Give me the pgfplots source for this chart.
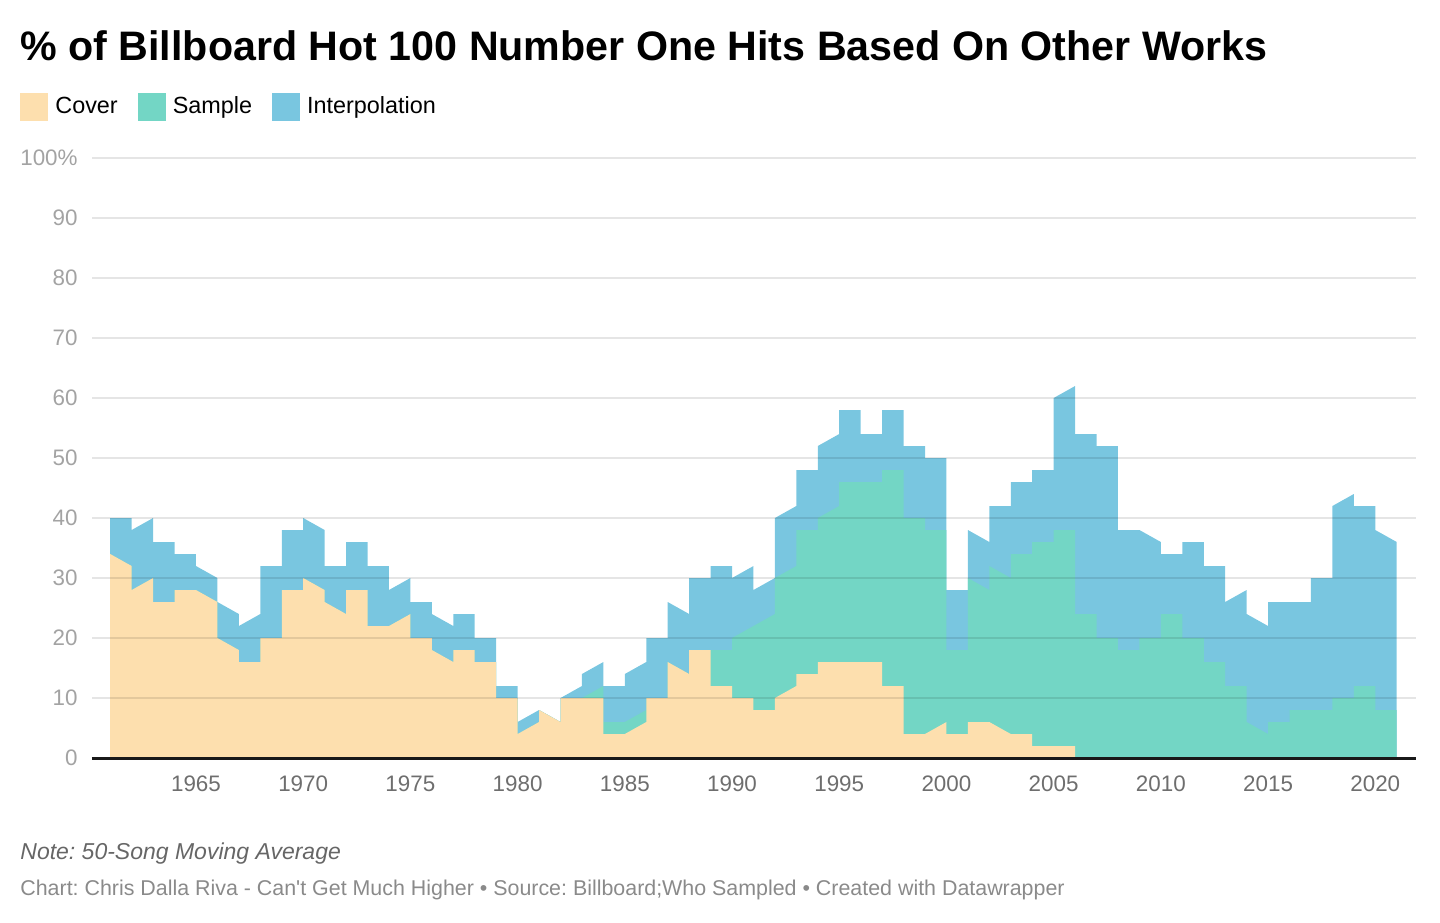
\documentclass[border=0pt]{standalone}
\usepackage{fontspec}
\setmainfont{Liberation Sans}
\usepackage{pgfplots}
\pgfplotsset{compat=1.18}
\usepackage{pgfplotstable}
\frenchspacing

\definecolor{cover}{HTML}{FDDFAE}
\definecolor{sample}{HTML}{73D6C5}
\definecolor{interp}{HTML}{79C6E0}
\definecolor{ylab}{HTML}{A3A3A3}
\definecolor{xlab}{HTML}{6E6E6E}
\definecolor{note}{HTML}{666666}
\definecolor{foot}{HTML}{8A8A8A}

% each year runs from x to x+1: start row and end row
% c = cover, s = cover+sample, t = cover+sample+interpolation
\pgfplotstableread{
x c s t
1961 34 34 40
1962 32 32 40
1962 28 28 38
1963 30 30 40
1963 26 26 36
1964 26 26 36
1964 28 28 34
1965 28 28 34
1965 28 28 32
1966 26 26 30
1966 20 20 26
1967 18 18 24
1967 16 16 22
1968 16 16 24
1968 20 20 32
1969 20 20 32
1969 28 28 38
1970 28 28 38
1970 30 30 40
1971 28 28 38
1971 26 26 32
1972 24 24 32
1972 28 28 36
1973 28 28 36
1973 22 22 32
1974 22 22 32
1974 22 22 28
1975 24 24 30
1975 20 20 26
1976 20 20 26
1976 18 18 24
1977 16 16 22
1977 18 18 24
1978 18 18 24
1978 16 16 20
1979 16 16 20
1979 10 10 12
1980 10 10 12
1980 4 4 6
1981 6 6 8
1981 8 8 8
1982 6 6 6
1982 10 10 10
1983 10 10 12
1983 10 10 14
1984 10 12 16
1984 4 6 12
1985 4 6 12
1985 4 6 14
1986 6 8 16
1986 10 10 20
1987 10 10 20
1987 16 16 26
1988 14 14 24
1988 18 18 30
1989 18 18 30
1989 12 18 32
1990 12 18 32
1990 10 20 30
1991 10 22 32
1991 8 22 28
1992 8 24 30
1992 10 30 40
1993 12 32 42
1993 14 38 48
1994 14 38 48
1994 16 40 52
1995 16 42 54
1995 16 46 58
1996 16 46 58
1996 16 46 54
1997 16 46 54
1997 12 48 58
1998 12 48 58
1998 4 40 52
1999 4 40 52
1999 4 38 50
2000 6 38 50
2000 4 18 28
2001 4 18 28
2001 6 30 38
2002 6 28 36
2002 6 32 42
2003 4 30 42
2003 4 34 46
2004 4 34 46
2004 2 36 48
2005 2 36 48
2005 2 38 60
2006 2 38 62
2006 0 24 54
2007 0 24 54
2007 0 20 52
2008 0 20 52
2008 0 18 38
2009 0 18 38
2009 0 20 38
2010 0 20 36
2010 0 24 34
2011 0 24 34
2011 0 20 36
2012 0 20 36
2012 0 16 32
2013 0 16 32
2013 0 12 26
2014 0 12 28
2014 0 6 24
2015 0 4 22
2015 0 6 26
2016 0 6 26
2016 0 8 26
2017 0 8 26
2017 0 8 30
2018 0 8 30
2018 0 10 42
2019 0 10 44
2019 0 12 42
2020 0 12 42
2020 0 8 38
2021 0 8 36
}\hits

\begin{document}
\begin{tikzpicture}
\path[use as bounding box] (0,0) rectangle (720pt,-461pt);

\node[anchor=base west, inner sep=0pt, font=\fontsize{20.6pt}{24pt}\selectfont\bfseries]
  at (10pt,-30pt) {\% of Billboard Hot 100 Number One Hits Based On Other Works};

\begin{axis}[
  at={(46pt,-379pt)}, anchor=south west,
  scale only axis, width=662pt, height=300pt,
  xmin=1960.15, xmax=2021.9, ymin=0, ymax=100,
  axis on top,
  axis x line*=bottom, axis y line*=left,
  axis line style={-},
  x axis line style={line width=1.5pt, draw=black!90},
  y axis line style={draw=none},
  major tick length=0pt,
  tick style={draw=none},
  xtick={1965,1970,...,2020},
  xticklabels={1965,1970,1975,1980,1985,1990,1995,2000,2005,2010,2015,2020},
  ytick={0,10,...,100},
  yticklabels={0,10,20,30,40,50,60,70,80,90,100\%},
  xticklabel style={anchor=north, inner sep=0pt, yshift=-8.5pt, text=xlab,
    font=\fontsize{11.2pt}{13pt}\selectfont},
  yticklabel style={anchor=east, inner sep=0pt, xshift=-7pt, text=ylab,
    font=\fontsize{11.2pt}{13pt}\selectfont},
  ymajorgrids,
  major grid style={draw=black, opacity=0.1, line width=1pt},
  reverse legend,
  legend columns=3,
  legend image code/.code={\fill[#1] (0pt,-7pt) rectangle (14pt,7pt);},
  legend style={draw=none, fill=none, inner sep=0pt, at={(-0.0544,1.085)}, anchor=west,
    font=\fontsize{11.7pt}{13pt}\selectfont, nodes={inner sep=0pt},
    /tikz/every odd column/.append style={column sep=3.5pt},
    /tikz/every even column/.append style={column sep=10pt}},
]
\addplot[draw=none, fill=interp] table[x=x, y=t] {\hits} \closedcycle;
\addlegendentry{Interpolation}
\addplot[draw=none, fill=sample] table[x=x, y=s] {\hits} \closedcycle;
\addlegendentry{Sample}
\addplot[draw=none, fill=cover] table[x=x, y=c] {\hits} \closedcycle;
\addlegendentry{Cover}
\end{axis}

\node[anchor=base west, inner sep=0pt, text=note, font=\fontsize{11.5pt}{13pt}\selectfont\itshape]
  at (10pt,-429.5pt) {Note: 50-Song Moving Average};
\node[anchor=base west, inner sep=0pt, text=foot, font=\fontsize{10.7pt}{12pt}\selectfont]
  at (10pt,-447.5pt) {Chart: Chris Dalla Riva - Can\textquotesingle t Get Much Higher • Source: Billboard;Who Sampled • Created with Datawrapper};
\end{tikzpicture}
\end{document}
